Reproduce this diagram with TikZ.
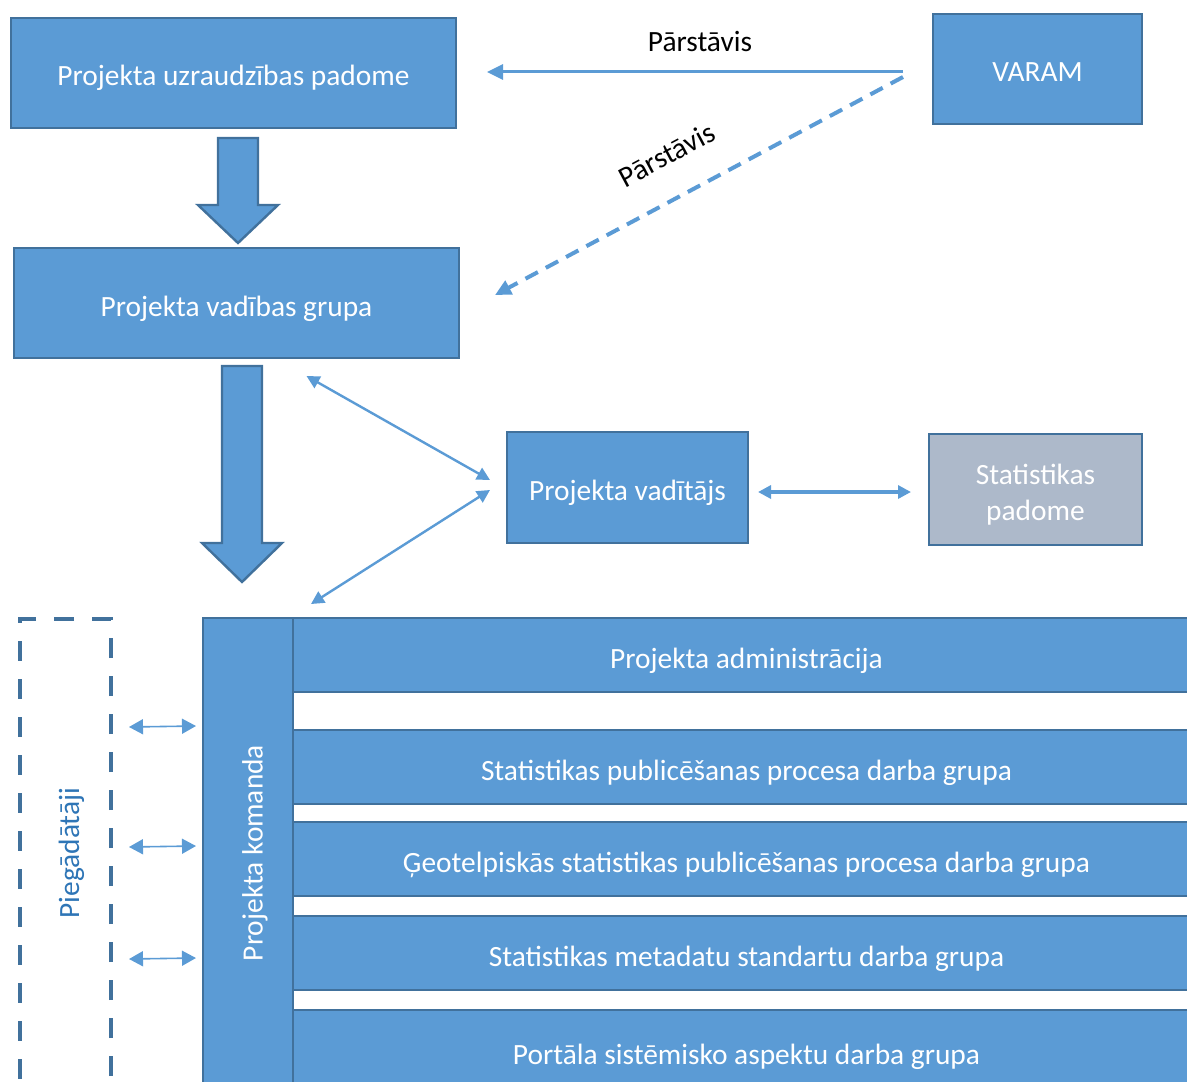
\documentclass[tikz,border=0pt]{standalone}
\usepackage{fontspec}
\setmainfont{Carlito}
\usetikzlibrary{arrows.meta,calc}

\definecolor{boxfill}{HTML}{5B9BD5}
\definecolor{boxline}{HTML}{41719C}
\definecolor{greyfill}{HTML}{ADB9CA}
\definecolor{supptext}{HTML}{2E75B6}

\begin{document}
\begin{tikzpicture}[x=0.5pt, y=-0.5pt,
    every node/.style={font=\fontsize{14.7}{18}\selectfont},
    org/.style={draw=boxline, fill=boxfill, line width=1.2pt, text=white, inner sep=0pt, outer sep=0pt, align=center},
    oneline/.style={org, text height=1.3em, text depth=0pt},
    link/.style={draw=boxfill, line width=1.5pt, -{Triangle[length=8pt,width=7.5pt]}},
    twoway/.style={draw=boxfill, line width=1.2pt, {Triangle[length=6.5pt,width=6.5pt]}-{Triangle[length=6.5pt,width=6.5pt]}},
    small/.style={draw=boxfill, line width=0.8pt, {Triangle[length=7pt,width=7.5pt]}-{Triangle[length=7pt,width=7.5pt]}},
    bigarrow/.style={draw=boxline, fill=boxfill, line width=1.2pt, line join=miter}]
  \useasboundingbox (0,0) rectangle (1187,1081);
  \clip (0,0) rectangle (1187,1081);

  % Top level
  \node[oneline, minimum width=222.5pt, minimum height=55pt] (uzr) at (233.5,73) {Projekta uzraudzības padome};
  \node[oneline, minimum width=104.5pt, minimum height=55pt] (varam) at (1037.5,69) {VARAM};
  \node[oneline, minimum width=222.5pt, minimum height=55pt] (vad) at (236.5,303) {Projekta vadības grupa};
  \node[oneline, minimum width=120.5pt, minimum height=55.5pt] (vadit) at (627.5,487.5) {Projekta vadītājs};
  \node[org, fill=greyfill, minimum width=106.5pt, minimum height=55.5pt,
    label={[text=white, align=center, yshift=-2.5pt]center:Statistikas\\padome}] (stat) at (1035.5,489.5) {};

  % Representatives
  \draw[link] ([xshift=-15pt,yshift=-1.5pt]varam.west) -- ([xshift=15.5pt,yshift=0.5pt]uzr.east)
    node[midway, above=6pt, xshift=2.5pt, text=black] {Pārstāvis};
  \draw[link, line width=2pt, dash pattern=on 7pt off 4.5pt] ([xshift=-15pt,yshift=-4pt]varam.west) -- ([xshift=18pt,yshift=4pt]vad.east)
    node[pos=0.53, sloped, above=12pt, text=black] {Pārstāvis};

  % Block arrows
  \filldraw[bigarrow] (218,138) -- (258,138) -- (258,205) -- (278,205) -- (238,243) -- (198,205) -- (218,205) -- cycle;
  \filldraw[bigarrow] (222,366) -- (262,366) -- (262,543) -- (282,543) -- (242,582) -- (202,543) -- (222,543) -- cycle;

  % Project team
  \node[org, minimum width=45pt, minimum height=240pt,
    label={[rotate=90, text=white, xshift=2.5pt, yshift=-3.5pt]center:Projekta komanda}] (kom) at (248,858) {};
  \node[oneline, minimum width=453.5pt, minimum height=37pt] (row1) at (746.5,655) {Projekta administrācija};
  \node[oneline, minimum width=453.5pt, minimum height=37pt] (row2) at (746.5,767) {Statistikas publicēšanas procesa darba grupa};
  \node[oneline, minimum width=453.5pt, minimum height=37pt] (row3) at (746.5,859) {Ģeotelpiskās statistikas publicēšanas procesa darba grupa};
  \node[oneline, minimum width=453.5pt, minimum height=37pt] (row4) at (746.5,953) {Statistikas metadatu standartu darba grupa};
  \node[oneline, minimum width=453.5pt, minimum height=41pt] (row5) at (746.5,1051) {Portāla sistēmisko aspektu darba grupa};

  % Suppliers
  \node[draw=boxline, line width=2pt, dash pattern=on 10pt off 9pt, minimum width=45.5pt, minimum height=240pt,
    inner sep=0pt, outer sep=0pt,
    label={[rotate=90, text=supptext, xshift=3pt, yshift=-3pt]center:Piegādātāji}] (piegad) at (65.5,859) {};

  % Manager links
  \draw[twoway] ([shift={(35pt,-9pt)}]vad.south) -- ([shift={(-8.5pt,3.75pt)}]vadit.west);
  \draw[twoway] ([shift={(-8.5pt,-1.25pt)}]vadit.west) -- ([shift={(31.5pt,7pt)}]kom.north);
  \draw[twoway, line width=1.6pt] ([shift={(5pt,-2.25pt)}]vadit.east) -- ([shift={(-9pt,-1.25pt)}]stat.west);

  % Supplier links
  \foreach \dy in {66,6,-50}
    \draw[small] ([shift={(9pt,\dy pt)}]piegad.east) -- ([shift={(-3.5pt,\dy pt)}]kom.west);
\end{tikzpicture}
\end{document}
